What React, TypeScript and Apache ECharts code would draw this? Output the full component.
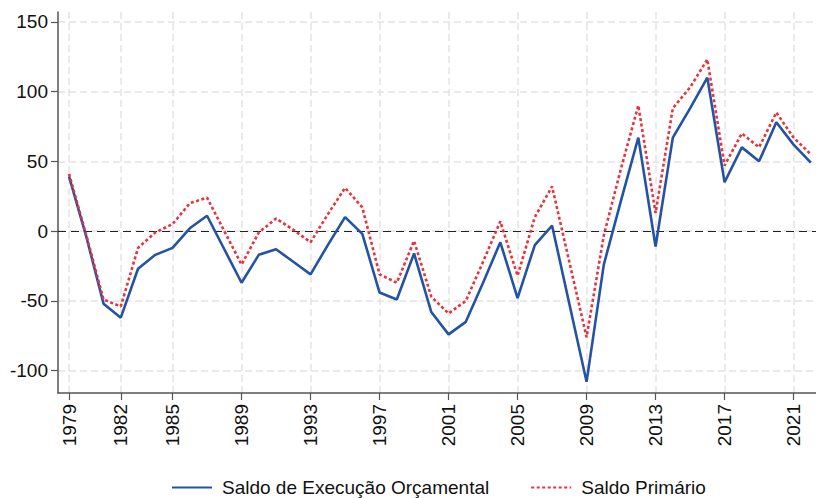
import React, { useEffect, useRef } from "react";
import * as echarts from "echarts";

const years: number[] = [];
for (let y = 1979; y <= 2022; y++) years.push(y);

const saldoExecucao = [
  39, -4, -52, -62, -27, -17, -12, 2, 11, -13, -37, -17, -13, -22, -31, -10, 10, -2, -44, -49,
  -16, -58, -74, -65, -37, -8, -48, -10, 4, -52, -108, -24, 22, 67, -11, 67, 88, 110, 35, 60,
  50, 78, 62, 49,
];
const saldoPrimario = [
  41, -3, -49, -54, -12, -1, 5, 20, 24, 0, -24, -1, 9, 1, -8, 12, 31, 17, -31, -37,
  -7, -47, -59, -50, -22, 7, -32, 10, 32, -22, -76, -3, 45, 90, 13, 88, 103, 123, 47, 70,
  60, 85, 67, 55,
];
const xTicks = [1979, 1982, 1985, 1989, 1993, 1997, 2001, 2005, 2009, 2013, 2017, 2021];
const yTicks = [-100, -50, 0, 50, 100, 150];

const FONT = "Liberation Sans, Arial, Helvetica, sans-serif";

export default function App() {
  const ref = useRef<HTMLDivElement>(null);
  useEffect(() => {
    if (!ref.current) return;
    const chart = echarts.init(ref.current, undefined, { renderer: "svg" });
    const gridLine = { show: true, lineStyle: { color: "#e4e4e4", width: 1.5, type: [7, 4] as any } };
    chart.setOption({
      animation: false,
      backgroundColor: "#ffffff",
      textStyle: { fontFamily: FONT },
      grid: { left: 58, right: 0, top: 12, bottom: 105, containLabel: false },
      legend: {
        left: 171,
        top: 478,
        padding: 0,
        itemWidth: 40,
        itemHeight: 14,
        itemGap: 41,
        itemStyle: { opacity: 0 },
        textStyle: { fontSize: 19, color: "#111", fontFamily: FONT, padding: [0, 0, 0, 5] },
        data: ["Saldo de Execução Orçamental", "Saldo Primário"],
      },
      xAxis: {
        type: "value",
        min: 1978.36,
        max: 2022.3,
        axisLine: { show: true, onZero: false, lineStyle: { color: "#555", width: 1.5 } },
        axisTick: { show: true, length: 7, customValues: xTicks, lineStyle: { color: "#555", width: 1.2 } },
        axisLabel: {
          customValues: xTicks,
          rotate: 90,
          margin: 11,
          fontSize: 19,
          color: "#111",
          fontFamily: FONT,
          formatter: (v: number) => String(v),
        },
        splitLine: gridLine,
      },
      yAxis: {
        type: "value",
        min: -116,
        max: 157,
        axisLine: { show: true, lineStyle: { color: "#555", width: 1.5 } },
        axisTick: { show: true, length: 7, customValues: yTicks, lineStyle: { color: "#555", width: 1.2 } },
        axisLabel: { customValues: yTicks, margin: 10, fontSize: 19, color: "#111", fontFamily: FONT },
        splitLine: gridLine,
      },
      series: [
        {
          name: "Saldo de Execução Orçamental",
          type: "line",
          symbol: "none",
          data: years.map((y, i) => [y, saldoExecucao[i]]),
          lineStyle: { color: "#2453a3", width: 2.6 },
          itemStyle: { color: "#2453a3" },
          z: 3,
          markLine: {
            silent: true,
            symbol: "none",
            label: { show: false },
            lineStyle: { color: "#222", width: 1.2, type: [8, 5] as any },
            data: [{ yAxis: 0 }],
            z: 1,
          },
        },
        {
          name: "Saldo Primário",
          type: "line",
          symbol: "none",
          data: years.map((y, i) => [y, saldoPrimario[i]]),
          lineStyle: { color: "#e8333c", width: 2.6, type: [3, 2.5] as any },
          itemStyle: { color: "#e8333c" },
          z: 4,
        },
      ],
    });
    return () => chart.dispose();
  }, []);
  return (
    <div
      ref={ref}
      style={{ position: "fixed", left: 0, top: 0, width: 816, height: 498, background: "#fff" }}
    />
  );
}
